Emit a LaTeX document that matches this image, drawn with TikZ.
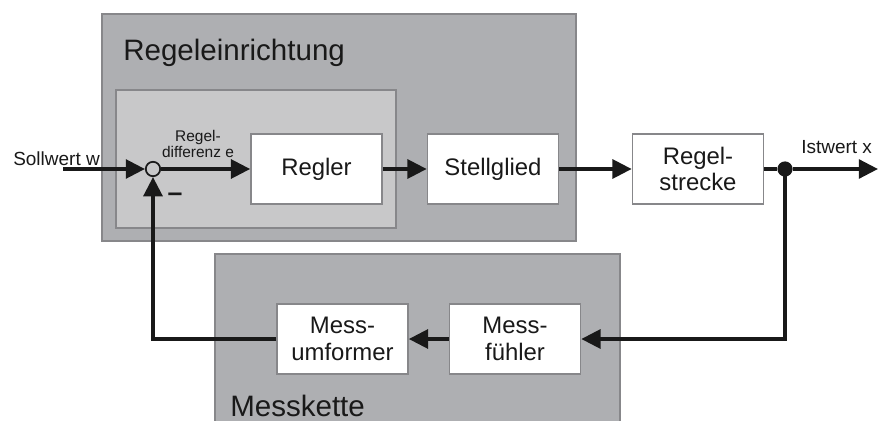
\documentclass[tikz,border=0pt]{standalone}
\usepackage{fontspec}
\setmainfont{Liberation Sans}
\usetikzlibrary{arrows.meta, positioning}

\definecolor{panelgray}{RGB}{174,175,178}
\definecolor{innergray}{RGB}{200,200,201}
\definecolor{edgegray}{RGB}{135,135,138}
\definecolor{inkgray}{RGB}{25,25,25}

\tikzset{
  blk/.style={draw=edgegray, line width=1pt, fill=white, text=inkgray,
    minimum width=3.28cm, minimum height=1.74cm, inner sep=0pt,
    align=center, font=\fontsize{17}{19}\selectfont},
  sig/.style={draw=inkgray, line width=2.5pt, -{Triangle[length=0.48cm,width=0.47cm]}},
  wire/.style={draw=inkgray, line width=2.5pt},
  tag/.style={text=inkgray, anchor=base west, inner sep=0pt},
}

\begin{document}
\begin{tikzpicture}[x=0.025cm, y=-0.025cm]
  \clip (0,0) rectangle (883,421);
  \fill[white] (0,0) rectangle (883,421);
  % panels
  \filldraw[fill=panelgray, draw=edgegray, line width=0.8pt] (102,14) rectangle (576,241);
  \filldraw[fill=innergray, draw=edgegray, line width=0.8pt] (116,90) rectangle (396,228);
  \fill[panelgray] (215,254) rectangle (620,425);
  \draw[edgegray, line width=0.8pt] (215,425) -- (215,254) -- (620,254) -- (620,425);
  \node[tag, font=\fontsize{21}{25}\selectfont] (einrichtung) at (123,60) {Regeleinrichtung};
  \node[tag, font=\fontsize{21}{25}\selectfont] (kette) at (230,416) {Messkette};
  % forward path
  \node[circle, draw=inkgray, line width=1.2pt, minimum size=0.36cm, inner sep=0pt] (sum) at (153,169) {};
  \coordinate (win) at (63,169);
  \node[tag, font=\fontsize{13.5}{15}\selectfont] (wlabel) at (13,165) {Sollwert w};
  \draw[sig] (win) -- (sum.west);
  \node[text=inkgray, align=center, inner sep=0pt, font=\fontsize{11}{11.5}\selectfont] (elabel) at (198,144) {Regel-\\differenz e};
  \node[text=inkgray, anchor=base, inner sep=0pt, font=\fontsize{19}{20}\selectfont\bfseries] (minus) at (175,201) {–};
  \node[blk] (regler) at (316.5,169) {Regler};
  \node[blk] (stell) at (493,169) {Stellglied};
  \node[blk] (strecke) at (698,169) {Regel-\\strecke};
  \draw[sig] (sum.east) -- (regler.west);
  \draw[sig] (regler.east) -- (stell.west);
  \draw[sig] (stell.east) -- (strecke.west);
  \node[circle, fill=inkgray, minimum size=0.38cm, inner sep=0pt] (knot) at (785,169) {};
  \draw[wire] (strecke.east) -- (knot);
  \coordinate (xout) at (878,169);
  \draw[sig] (knot) -- (xout);
  \node[tag, font=\fontsize{13.5}{15}\selectfont] (xlabel) at (801,153) {Istwert x};
  % feedback path
  \node[blk] (fuehler) at (515,339) {Mess-\\fühler};
  \node[blk] (umformer) at (342.5,339) {Mess-\\umformer};
  \coordinate (rueck) at (785,339);
  \coordinate (ecke) at (153,339);
  \draw[sig] (knot.center) -- (rueck) -- (fuehler.east);
  \draw[sig] (fuehler.west) -- (umformer.east);
  \draw[sig] (umformer.west) -- (ecke) -- (sum.south);
\end{tikzpicture}
\end{document}
